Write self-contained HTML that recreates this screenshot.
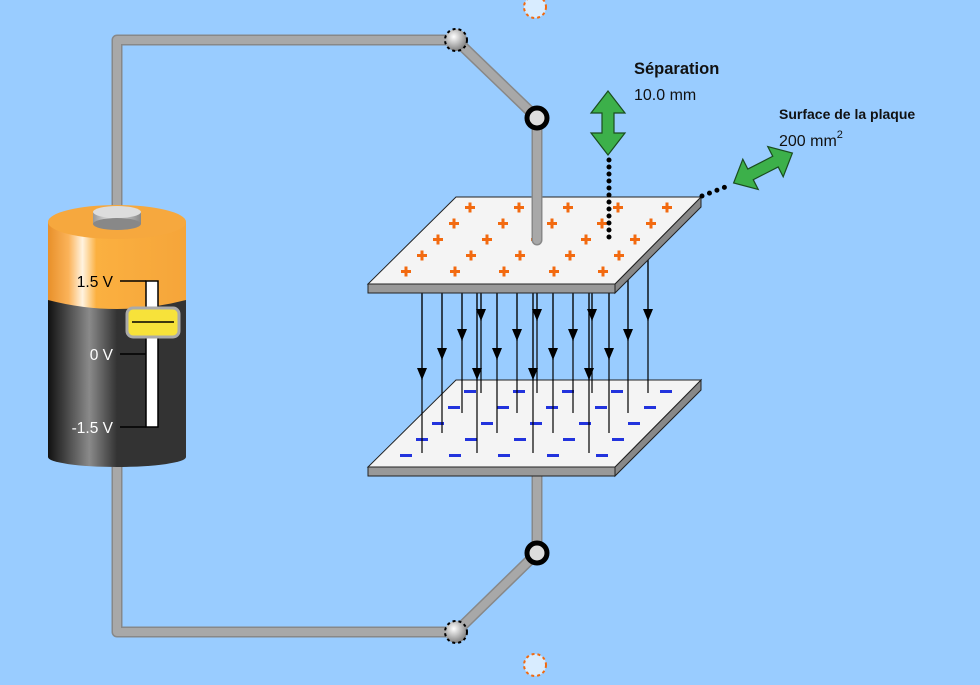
<!DOCTYPE html>
<html><head><meta charset="utf-8"><style>
html,body{margin:0;padding:0;background:#99ccff;}
svg{display:block;}
text{font-family:"Liberation Sans",sans-serif;}
</style></head><body>
<svg width="980" height="685" viewBox="0 0 980 685" xmlns="http://www.w3.org/2000/svg">
<defs>
<linearGradient id="org" x1="0" x2="1" y1="0" y2="0">
<stop offset="0" stop-color="#e8902a"/><stop offset="0.15" stop-color="#fbb35a"/><stop offset="0.25" stop-color="#fff3e0"/><stop offset="0.35" stop-color="#fbb040"/><stop offset="1" stop-color="#f5a53a"/></linearGradient>
<linearGradient id="blk" x1="0" x2="1" y1="0" y2="0">
<stop offset="0" stop-color="#111"/><stop offset="0.3" stop-color="#8a8a8a"/><stop offset="0.5" stop-color="#333"/><stop offset="1" stop-color="#333"/></linearGradient>
<radialGradient id="ball" cx="0.4" cy="0.35" r="0.7"><stop offset="0" stop-color="#fff"/><stop offset="1" stop-color="#777"/></radialGradient>
<linearGradient id="term" x1="0" x2="1"><stop offset="0" stop-color="#999"/><stop offset="0.4" stop-color="#eee"/><stop offset="1" stop-color="#888"/></linearGradient>
<marker id="ah" markerWidth="12" markerHeight="10" refX="12" refY="5" orient="auto" markerUnits="userSpaceOnUse"><path d="M0,0 L12,5 L0,10 Z" fill="#000"/></marker>
</defs>

<g fill="none" stroke-linejoin="round" stroke-linecap="round">
<path d="M117,215 L117,40 L456,40 L537,118 L537,240" stroke="#888" stroke-width="11"/>
<path d="M117,215 L117,40 L456,40 L537,118 L537,240" stroke="#a8a8a8" stroke-width="8"/>
<path d="M537,476 L537,553 L456,632 L117,632 L117,465" stroke="#888" stroke-width="11"/>
<path d="M537,476 L537,553 L456,632 L117,632 L117,465" stroke="#a8a8a8" stroke-width="8"/>
</g>

<rect x="48" y="300" width="138" height="157" fill="url(#blk)"/>
<ellipse cx="117" cy="457" rx="69" ry="10" fill="url(#blk)"/>
<path d="M48,222 L186,222 L186,300 Q117,318 48,300 Z" fill="url(#org)"/>
<ellipse cx="117" cy="222" rx="69" ry="17" fill="#f6a83e"/>
<rect x="93" y="212" width="48" height="12" fill="url(#term)"/>
<ellipse cx="117" cy="224" rx="24" ry="6" fill="#888"/>
<ellipse cx="117" cy="212" rx="24" ry="6" fill="#ddd"/>
<rect x="146" y="281" width="12" height="146" fill="#fff" stroke="#000" stroke-width="1.5"/>
<g stroke="#000" stroke-width="1.5"><line x1="120" y1="281" x2="146" y2="281"/><line x1="120" y1="354" x2="146" y2="354"/><line x1="120" y1="427" x2="146" y2="427"/></g>
<text x="113" y="287" font-size="15.5" fill="#000" text-anchor="end">1.5 V</text>
<text x="113" y="360" font-size="15.5" fill="#fff" text-anchor="end">0 V</text>
<text x="113" y="433" font-size="15.5" fill="#fff" text-anchor="end">-1.5 V</text>
<rect x="127" y="308" width="52" height="29" rx="6" fill="#f7e23a" stroke="#aaa" stroke-width="3"/>
<line x1="132" y1="322" x2="174" y2="322" stroke="#000" stroke-width="1.5"/>

<path d="M368,467 L615,467 L615,476 L368,476 Z" fill="#999" stroke="#222"/>
<path d="M615,467 L701,380 L701,390 L615,476 Z" fill="#888" stroke="#222"/>
<path d="M456,380 L701,380 L615,467 L368,467 Z" fill="#f4f4f4" stroke="#222"/>
<g fill="#2233dd">
<g id="mr"><rect x="464" y="390" width="12" height="3"/><rect x="513" y="390" width="12" height="3"/><rect x="562" y="390" width="12" height="3"/><rect x="611" y="390" width="12" height="3"/><rect x="660" y="390" width="12" height="3"/></g>
<use href="#mr" x="-16" y="16"/><use href="#mr" x="-32" y="32"/><use href="#mr" x="-48" y="48"/><use href="#mr" x="-64" y="64"/>
</g>

<g stroke="#000" stroke-width="1.2">
<line x1="422" y1="293" x2="422" y2="453"/><line x1="422" y1="293" x2="422" y2="380" marker-end="url(#ah)"/>
<line x1="442" y1="293" x2="442" y2="433"/><line x1="442" y1="293" x2="442" y2="360" marker-end="url(#ah)"/>
<line x1="462" y1="293" x2="462" y2="413"/><line x1="462" y1="293" x2="462" y2="341" marker-end="url(#ah)"/>
<line x1="477" y1="293" x2="477" y2="453"/><line x1="477" y1="293" x2="477" y2="380" marker-end="url(#ah)"/>
<line x1="481" y1="293" x2="481" y2="393"/><line x1="481" y1="293" x2="481" y2="321" marker-end="url(#ah)"/>
<line x1="497" y1="293" x2="497" y2="433"/><line x1="497" y1="293" x2="497" y2="360" marker-end="url(#ah)"/>
<line x1="517" y1="293" x2="517" y2="413"/><line x1="517" y1="293" x2="517" y2="341" marker-end="url(#ah)"/>
<line x1="533" y1="293" x2="533" y2="453"/><line x1="533" y1="293" x2="533" y2="380" marker-end="url(#ah)"/>
<line x1="537" y1="293" x2="537" y2="393"/><line x1="537" y1="293" x2="537" y2="321" marker-end="url(#ah)"/>
<line x1="553" y1="293" x2="553" y2="433"/><line x1="553" y1="293" x2="553" y2="360" marker-end="url(#ah)"/>
<line x1="573" y1="293" x2="573" y2="413"/><line x1="573" y1="293" x2="573" y2="341" marker-end="url(#ah)"/>
<line x1="589" y1="293" x2="589" y2="453"/><line x1="589" y1="293" x2="589" y2="380" marker-end="url(#ah)"/>
<line x1="592" y1="293" x2="592" y2="393"/><line x1="592" y1="293" x2="592" y2="321" marker-end="url(#ah)"/>
<line x1="609" y1="293" x2="609" y2="433"/><line x1="609" y1="293" x2="609" y2="360" marker-end="url(#ah)"/>
<line x1="628" y1="260" x2="628" y2="413"/><line x1="628" y1="260" x2="628" y2="341" marker-end="url(#ah)"/>
<line x1="648" y1="260" x2="648" y2="393"/><line x1="648" y1="260" x2="648" y2="321" marker-end="url(#ah)"/>
</g>

<path d="M368,284 L615,284 L615,293 L368,293 Z" fill="#999" stroke="#222"/>
<path d="M615,284 L701,197 L701,207 L615,293 Z" fill="#888" stroke="#222"/>
<path d="M456,197 L701,197 L615,284 L368,284 Z" fill="#f4f4f4" stroke="#222"/>
<g fill="#f26a10">
<g id="pr"><path d="M465,206h10v3h-10zM468.5,202.5h3v10h-3z"/><path d="M514,206h10v3h-10zM517.5,202.5h3v10h-3z"/><path d="M563,206h10v3h-10zM566.5,202.5h3v10h-3z"/><path d="M613,206h10v3h-10zM616.5,202.5h3v10h-3z"/><path d="M662,206h10v3h-10zM665.5,202.5h3v10h-3z"/></g>
<use href="#pr" x="-16" y="16"/><use href="#pr" x="-32" y="32"/><use href="#pr" x="-48" y="48"/><use href="#pr" x="-64" y="64"/>
</g>
<line x1="537" y1="115" x2="537" y2="240" stroke="#888" stroke-width="11" stroke-linecap="round"/>
<line x1="537" y1="115" x2="537" y2="240" stroke="#a8a8a8" stroke-width="8" stroke-linecap="round"/>

<circle cx="537" cy="118" r="10" fill="#ddd" stroke="#000" stroke-width="5"/>
<circle cx="537" cy="553" r="10" fill="#ddd" stroke="#000" stroke-width="5"/>
<circle cx="456" cy="40" r="11" fill="url(#ball)" stroke="#000" stroke-width="2" stroke-dasharray="3,3"/>
<circle cx="456" cy="632" r="11" fill="url(#ball)" stroke="#000" stroke-width="2" stroke-dasharray="3,3"/>
<circle cx="535" cy="7" r="11" fill="#d8ecff" stroke="#f26a10" stroke-width="2" stroke-dasharray="3,3"/>
<circle cx="535" cy="665" r="11" fill="#d8ecff" stroke="#f26a10" stroke-width="2" stroke-dasharray="3,3"/>

<line x1="609" y1="160" x2="609" y2="242" stroke="#000" stroke-width="5" stroke-linecap="round" stroke-dasharray="0,7"/>
<line x1="702" y1="196" x2="728" y2="186" stroke="#000" stroke-width="5" stroke-linecap="round" stroke-dasharray="0,8"/>

<path d="M608,91 L625,113 L614,113 L614,133 L625,133 L608,155 L591,133 L602,133 L602,113 L591,113 Z" fill="#3cb04a" stroke="#1a4d1e" stroke-width="1.2"/>
<g transform="translate(763,168) rotate(-27)">
<path d="M-33,0 L-14,-17 L-14,-6 L14,-6 L14,-17 L33,0 L14,17 L14,6 L-14,6 L-14,17 Z" fill="#3cb04a" stroke="#1a4d1e" stroke-width="1.2"/>
</g>

<text x="634" y="74" font-size="16.5" font-weight="bold" fill="#111">Séparation</text>
<text x="634" y="100" font-size="16" fill="#111">10.0 mm</text>
<text x="779" y="119" font-size="14" font-weight="bold" fill="#111">Surface de la plaque</text>
<text x="779" y="146" font-size="16" fill="#111">200 mm<tspan font-size="11" dy="-8">2</tspan></text>
</svg>
</body></html>
